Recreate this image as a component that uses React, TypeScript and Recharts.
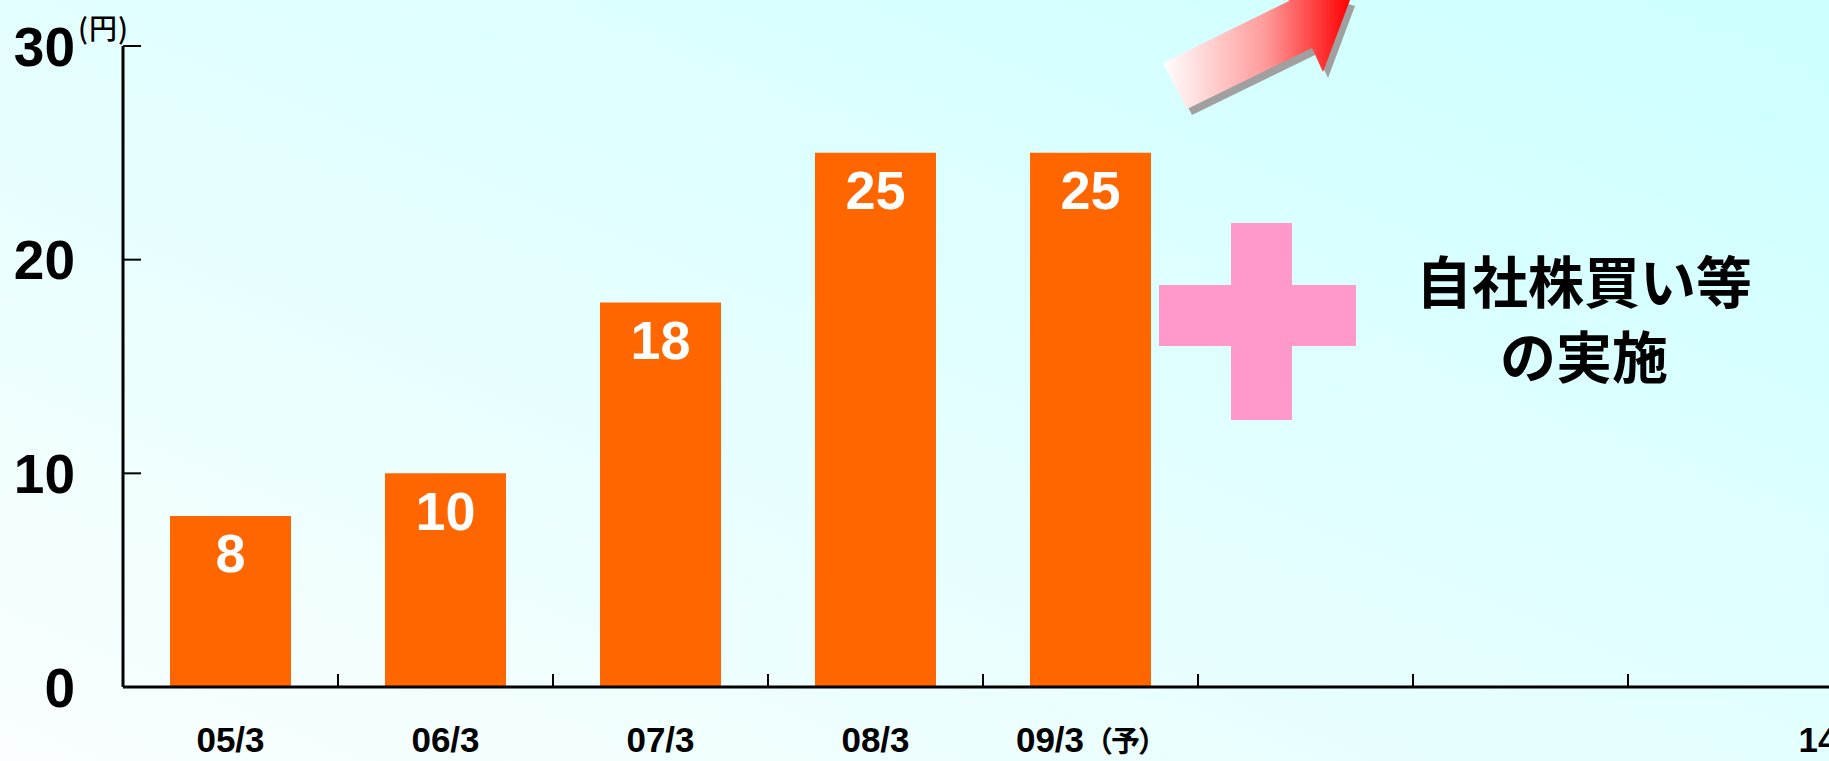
import React from 'react';
import { BarChart, Bar, XAxis, YAxis, LabelList } from 'recharts';

// fiscal periods (bands) and dividend per share (円)
const periods = ['05/3', '06/3', '07/3', '08/3', '09/3（予）', '', '', '14/3'];
const dividends = [8, 10, 18, 25, 25, null, null, null];
const yTicks = [0, 10, 20, 30];
const unitLabel = '(円)';
const noteLines = ['自社株買い等', 'の実施'];

const data = periods.map((name, i) => ({ name, value: dividends[i] }));

const FONT = '"Liberation Sans", Arial, sans-serif';
const JP_FONT = '"Noto Sans CJK JP", sans-serif';

const X_MARGIN = 40;
const Y_MARGIN = 48;

function XTick(props: any) {
  const { x, y, payload, index } = props;
  const label: string = payload.value || '';
  const half = payload.offset || 107.5;
  const axisY = y - X_MARGIN;
  const cut = label.indexOf('（');
  const main = cut >= 0 ? label.slice(0, cut) : label;
  const sub = cut >= 0 ? label.slice(cut) : '';
  // last label sits off to the right edge, half outside the frame
  const isLast = index === periods.length - 1;
  return (
    <g>
      {/* inward tick at the right edge of the band */}
      <line x1={x + half} x2={x + half} y1={axisY} y2={axisY - 13} stroke="#000" strokeWidth={2} />
      {label && (
        <text
          x={isLast ? x + 63 : x}
          y={y}
          dy="0.71em"
          textAnchor={isLast ? 'start' : 'middle'}
          fontFamily={FONT}
          fontWeight="bold"
          fontSize={35}
          fill="#000"
        >
          {main}
          {sub && (
            <tspan fontFamily={JP_FONT} fontWeight={700} fontSize={29} letterSpacing={-2}>
              {sub}
            </tspan>
          )}
        </text>
      )}
    </g>
  );
}

function YTick(props: any) {
  const { x, y, payload } = props;
  const isTop = payload.value === yTicks[yTicks.length - 1];
  const axisX = x + Y_MARGIN;
  return (
    <g>
      {payload.value !== 0 && (
        <line x1={axisX} x2={axisX + 18} y1={y} y2={y} stroke="#000" strokeWidth={2} />
      )}
      <text x={x} y={y} dy="0.355em" textAnchor="end" fontFamily={FONT} fontWeight="bold" fontSize={55} fill="#000">
        {payload.value}
      </text>
      {isTop && (
        <text x={x + 3} y={y - 7} fontFamily={JP_FONT} fontWeight={500} fontSize={28} letterSpacing={1} fill="#000">
          {unitLabel}
        </text>
      )}
    </g>
  );
}

export default function App() {
  const axisStroke = { stroke: '#000', strokeWidth: 3 };

  return (
    <div
      style={{
        position: 'absolute',
        left: 0,
        top: 0,
        width: 1829,
        height: 761,
        overflow: 'hidden',
        background: 'linear-gradient(to bottom left, #ccffff, #fafefe)',
        fontFamily: FONT,
      }}
    >
      <BarChart width={1870} height={761} data={data} margin={{ top: 46, right: 27, bottom: 0, left: 0 }}>
        <XAxis
          dataKey="name"
          height={74}
          axisLine={axisStroke}
          tickLine={false}
          tickSize={0}
          tickMargin={X_MARGIN}
          interval={0}
          tick={<XTick />}
        />
        <YAxis
          domain={[0, 30]}
          ticks={yTicks}
          width={123}
          tickLine={false}
          tickSize={0}
          tickMargin={Y_MARGIN}
          interval={0}
          axisLine={axisStroke}
          tick={<YTick />}
        />
        <Bar dataKey="value" fill="#FF6600" barSize={121} isAnimationActive={false}>
          <LabelList
            dataKey="value"
            position="insideTop"
            offset={18}
            fill="#fff"
            fontSize={54}
            fontWeight="bold"
            fontFamily={FONT}
          />
        </Bar>
      </BarChart>

      {/* decorations: rising arrow and plus sign */}
      <svg width={1829} height={761} style={{ position: 'absolute', left: 0, top: 0, pointerEvents: 'none' }}>
        <defs>
          <linearGradient id="arrowFill" x1="0" y1="0" x2="1" y2="0">
            <stop offset="0%" stopColor="#ffffff" />
            <stop offset="55%" stopColor="#ff9a9a" />
            <stop offset="100%" stopColor="#ff0000" />
          </linearGradient>
        </defs>
        <polygon points="1168,69 1192,115 1317,54 1328,78 1355,6 1283,-16 1294,7" fill="#a0a0a0" />
        <polygon points="1163,63 1187,109 1312,48 1323,72 1350,0 1278,-22 1289,1" fill="url(#arrowFill)" />
        <rect x={1231} y={223} width={61} height={197} fill="#ff99cc" />
        <rect x={1159} y={285} width={197} height={61} fill="#ff99cc" />
      </svg>

      <div
        style={{
          position: 'absolute',
          left: 1334,
          top: 241,
          width: 500,
          textAlign: 'center',
          fontFamily: JP_FONT,
          fontWeight: 700,
          fontSize: 56,
          lineHeight: '75px',
          color: '#000',
        }}
      >
        {noteLines.map((line) => (
          <div key={line}>{line}</div>
        ))}
      </div>
    </div>
  );
}
